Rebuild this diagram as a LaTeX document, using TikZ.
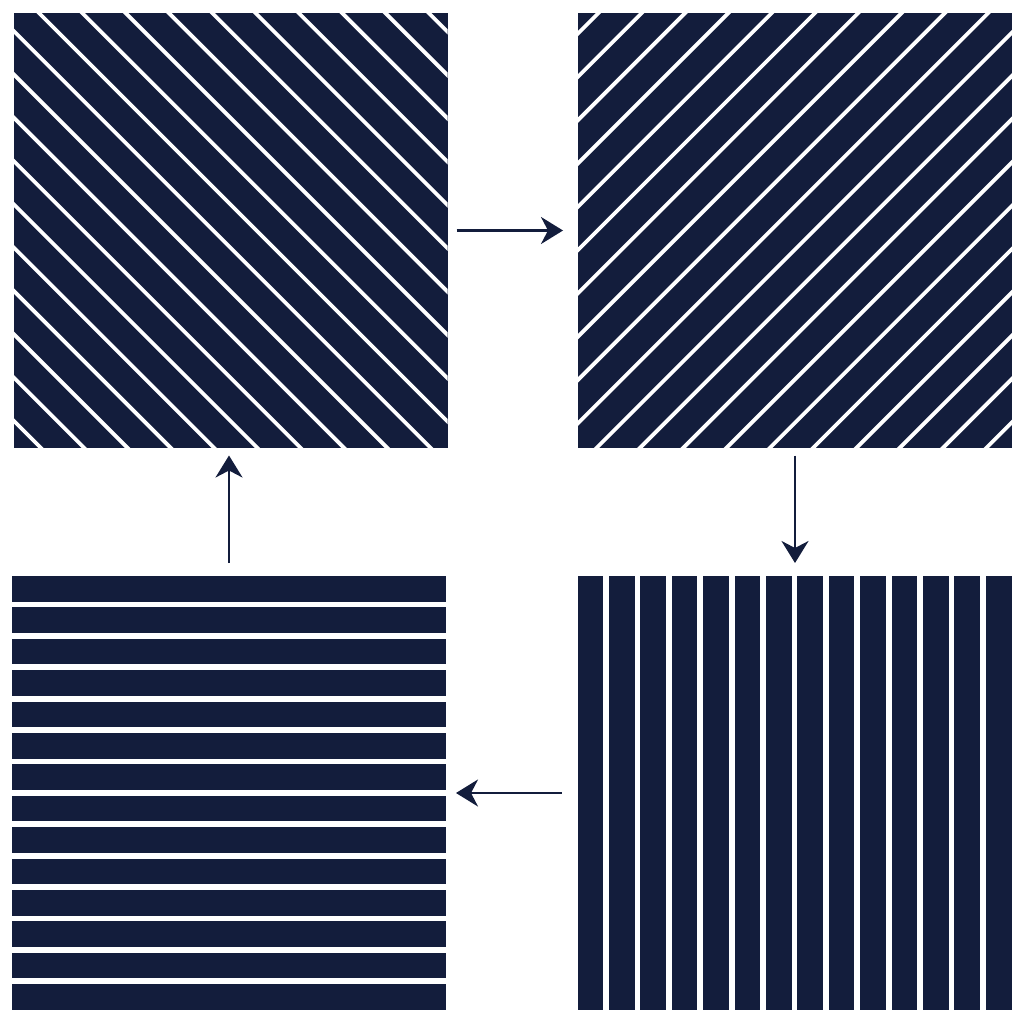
\documentclass[tikz,border=0pt]{standalone}
\usetikzlibrary{arrows.meta}
\definecolor{navy}{RGB}{19,29,60}
\begin{document}
\begin{tikzpicture}[x=1pt,y=-1pt,
  sq/.style={rectangle,fill=navy,draw=none,inner sep=0pt,outer sep=0pt,minimum size=434pt},
  stripe/.style={white,line width=3.8pt},
  gapline/.style={white,line width=5.8pt},
  conn/.style={navy,line width=2.5pt,-{Stealth[length=22pt,width=27pt,inset=7pt]}}]
\useasboundingbox (0,0) rectangle (1024,1024);
\node[sq] (tl) at (230.5,230.5) {};
\node[sq] (tr) at (795,230.5) {};
\node[sq] (bl) at (229,793) {};
\node[sq] (br) at (794.5,793) {};
% top-left: stripes down-right
\begin{scope}
\clip (tl.south west) rectangle (tl.north east);
\foreach \k in {-10,...,9}{
  \pgfmathsetmacro{\c}{26+43.3*\k}
  \draw[stripe] (13.5+\c-20,13.5-20) -- (13.5+\c+460,13.5+460);
}
\end{scope}
% top-right: stripes up-right
\begin{scope}
\clip (tr.south west) rectangle (tr.north east);
\foreach \k in {0,...,19}{
  \pgfmathsetmacro{\s}{20+43.3*\k}
  \draw[stripe] (578+\s+20,13.5-20) -- (578+\s-460,13.5+460);
}
\end{scope}
% bottom-left: horizontal gaps
\begin{scope}
\clip (bl.south west) rectangle (bl.north east);
\foreach \k in {0,...,12}{
  \pgfmathsetmacro{\y}{576+25.6+2.9+31.4*\k}
  \draw[gapline] (0,\y) -- (500,\y);
}
\end{scope}
% bottom-right: vertical gaps
\begin{scope}
\clip (br.south west) rectangle (br.north east);
\foreach \k in {0,...,12}{
  \pgfmathsetmacro{\x}{577.5+25.6+2.9+31.4*\k}
  \draw[gapline] (\x,560) -- (\x,1024);
}
\end{scope}
% connectors
\draw[conn] ([xshift=9pt]tl.east) -- ([xshift=-15pt]tl.east -| tr.west);
\draw[conn] ([yshift=-8pt]tr.south) -- ([yshift=13pt]tr.south |- br.north);
\draw[conn] ([xshift=-16pt]br.west) -- ([xshift=10pt]br.west -| bl.east);
\draw[conn] ([yshift=13pt]bl.north) -- ([yshift=-8pt]bl.north |- tl.south);
\end{tikzpicture}
\end{document}
